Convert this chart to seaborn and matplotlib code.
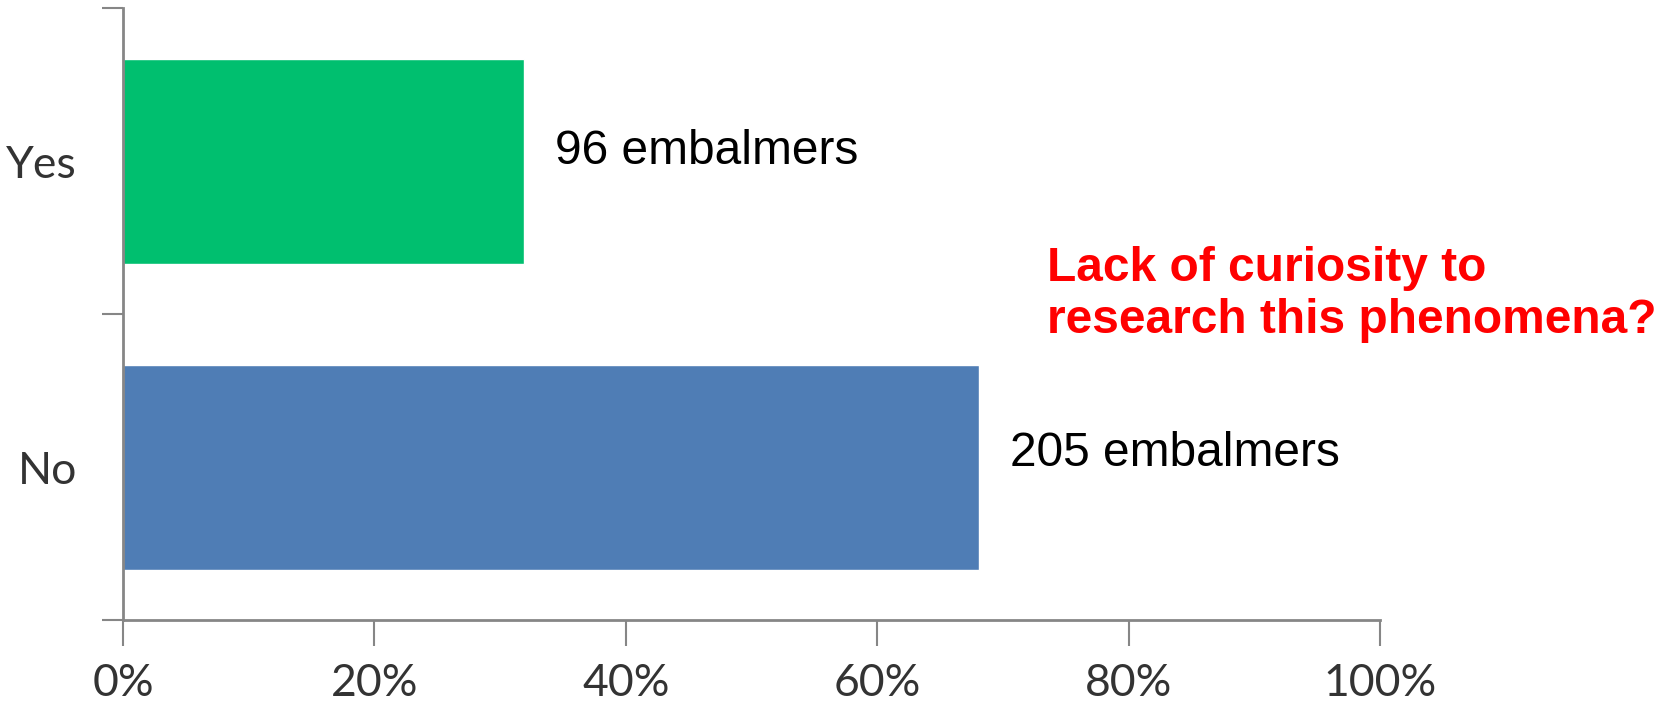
import pandas as pd
import seaborn as sns
import matplotlib.pyplot as plt
import matplotlib.ticker as mticker

# data
answers = ["Yes", "No"]
counts = [96, 205]
bar_colors = ["#00BF6F", "#4F7DB5"]
x_ticks = [0, 20, 40, 60, 80, 100]

total = sum(counts)
df = pd.DataFrame({
    "answer": answers,
    "pct": [c / total * 100 for c in counts],
    "count": counts,
})

sns.set_theme(style="white")
plt.rcParams["font.family"] = ["Liberation Sans", "DejaVu Sans"]
axis_grey = "#868686"

fig = plt.figure(figsize=(16.76, 7.03), dpi=100)
ax = fig.add_axes([0.0734, 0.118, 0.75, 0.870])

sns.barplot(data=df, y="answer", x="pct", hue="answer", palette=bar_colors,
            orient="h", width=0.67, legend=False, saturation=1, ax=ax)

ax.set_xlim(0, 100)
ax.set_ylim(1.5, -0.5)
ax.set_xlabel("")
ax.set_ylabel("")

# x axis
ax.set_xticks(x_ticks)
ax.xaxis.set_major_formatter(mticker.FuncFormatter(lambda v, p: f"{v:.0f}%"))
ax.tick_params(axis="x", direction="out", length=19, width=1.5, color=axis_grey,
               pad=12, labelsize=32, labelcolor="#333333", bottom=True)
for lab in ax.get_xticklabels():
    lab.set_fontfamily("Lato")

# y axis: ticks on category boundaries, labels centred between them
ax.set_yticks([-0.5, 0.5, 1.5])
ax.set_yticklabels([])
ax.set_yticks([0, 1], minor=True)
ax.set_yticklabels(answers, minor=True)
ax.tick_params(axis="y", which="major", direction="out", length=15, width=1.5,
               color=axis_grey, left=True)
ax.tick_params(axis="y", which="minor", length=0, pad=33, labelsize=32,
               labelcolor="#333333")
for lab in ax.get_yticklabels(minor=True):
    lab.set_fontfamily("Lato")

for side in ["top", "right"]:
    ax.spines[side].set_visible(False)
for side in ["left", "bottom"]:
    ax.spines[side].set_color(axis_grey)
    ax.spines[side].set_linewidth(2)

# value annotations
for i, row in df.iterrows():
    ax.annotate(f"{row['count']} embalmers", xy=(row["pct"], i),
                xytext=(31, 10 + 4 * i), textcoords="offset pixels",
                ha="left", va="center", fontsize=34.5, color="black")

ax.text(0.735, 0.533, "Lack of curiosity to\nresearch this phenomena?",
        transform=ax.transAxes, ha="left", va="center", fontsize=34.5,
        fontweight="bold", color="#FF0000", linespacing=1.2, clip_on=False)

fig.savefig("out.png", dpi=100)
